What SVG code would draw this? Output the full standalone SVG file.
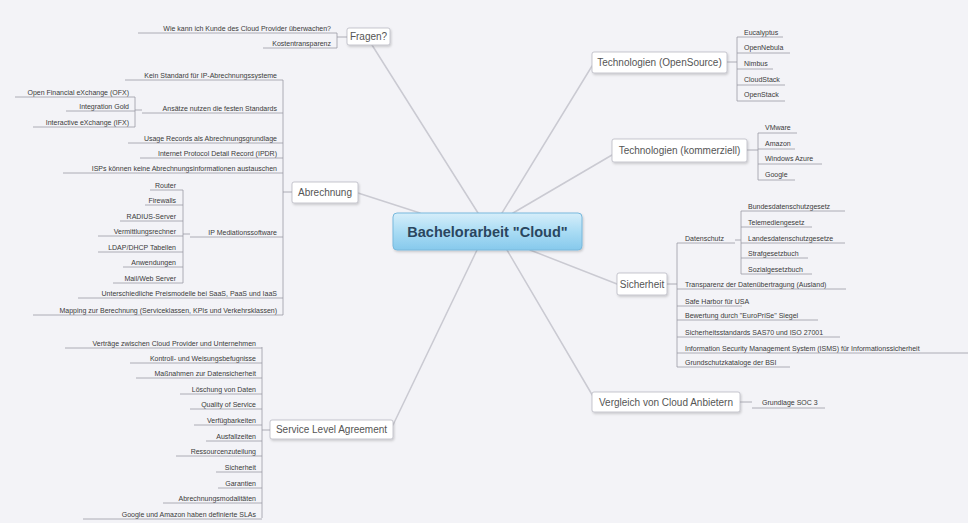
<svg xmlns="http://www.w3.org/2000/svg" width="968" height="523" viewBox="0 0 968 523">
<defs>
<linearGradient id="cg" x1="0" y1="0" x2="0" y2="1">
<stop offset="0" stop-color="#d6eefa"/>
<stop offset="0.5" stop-color="#aadcf4"/>
<stop offset="1" stop-color="#86c9ec"/>
</linearGradient>
<filter id="sh" x="-10%" y="-20%" width="120%" height="150%">
<feDropShadow dx="1" dy="1.5" stdDeviation="1.2" flood-color="#000" flood-opacity="0.18"/>
</filter>
<style>
.t{font-family:"Liberation Sans",Arial,sans-serif;font-size:7px;fill:#3a3a3a}
.e{text-anchor:end}
.tt{font-family:"Liberation Sans",Arial,sans-serif;font-size:10px;fill:#555}
.ul{stroke:#9a9aa4;stroke-width:0.8;fill:none}
.br{stroke:#9a9aa4;stroke-width:0.8;fill:none}
.conn{stroke:#cacad2;stroke-width:1.5;fill:none;stroke-linecap:round}
.box{fill:#fff;stroke:#b9b9c2;stroke-width:0.8}
</style>
</defs>
<rect width="968" height="523" fill="#f3f3f7"/>

<g id="connectors">
<path class="conn" d="M478 213 L372 45"/>
<path class="conn" d="M420 213 L358 193"/>
<path class="conn" d="M502 213 L592 66"/>
<path class="conn" d="M513 213 L612 155"/>
<path class="conn" d="M530 250 L617 284"/>
<path class="conn" d="M507 250 L594 398"/>
<path class="conn" d="M477 250 L393 425"/>
</g>

<g id="center">
<rect x="393" y="213" width="189" height="37" rx="4" fill="url(#cg)" stroke="#79b9dd" stroke-width="1" filter="url(#sh)"/>
<text x="487.5" y="236.5" text-anchor="middle" font-family="'Liberation Sans',Arial,sans-serif" font-size="14.5" font-weight="bold" fill="#2a465e">Bachelorarbeit "Cloud"</text>
</g>

<g id="fragen">
<rect class="box" x="347" y="28" width="43" height="17" rx="2" filter="url(#sh)"/>
<text class="tt" x="368.5" y="40" text-anchor="middle" font-size="9">Fragen?</text>
<path class="br" d="M337 33 V48 M337 37 H347"/>
<text class="t e" x="331" y="30.5">Wie kann ich Kunde des Cloud Provider überwachen?</text>
<line class="ul" x1="138" y1="33" x2="337" y2="33"/>
<text class="t e" x="331" y="45.5">Kostentransparenz</text>
<line class="ul" x1="263" y1="48" x2="337" y2="48"/>
</g>

<g id="abrechnung">
<rect class="box" x="292" y="182" width="66" height="21" rx="2" filter="url(#sh)"/>
<text class="tt" x="325" y="196" text-anchor="middle">Abrechnung</text>
<path class="br" d="M283 80 V315 M283 192 H292"/>
<text class="t e" x="277" y="77.5">Kein Standard für IP-Abrechnungssysteme</text>
<line class="ul" x1="125" y1="80" x2="283" y2="80"/>
<text class="t e" x="277" y="110.5">Ansätze nutzen die festen Standards</text>
<line class="ul" x1="142" y1="113" x2="283" y2="113"/>
<path class="br" d="M135 97 V127 M135 110 H142"/>
<text class="t e" x="129" y="94.5">Open Financial eXchange (OFX)</text>
<line class="ul" x1="15" y1="97" x2="135" y2="97"/>
<text class="t e" x="129" y="108.5">Integration Gold</text>
<line class="ul" x1="66" y1="111" x2="135" y2="111"/>
<text class="t e" x="129" y="124.5">Interactive eXchange (IFX)</text>
<line class="ul" x1="33" y1="127" x2="135" y2="127"/>
<text class="t e" x="277" y="140.5">Usage Records als Abrechnungsgrundlage</text>
<line class="ul" x1="128" y1="143" x2="283" y2="143"/>
<text class="t e" x="277" y="155.5">Internet Protocol Detail Record (IPDR)</text>
<line class="ul" x1="140" y1="158" x2="283" y2="158"/>
<text class="t e" x="277" y="170.5">ISPs können keine Abrechnungsinformationen austauschen</text>
<line class="ul" x1="63" y1="173" x2="283" y2="173"/>
<text class="t e" x="277" y="234.5">IP Mediationssoftware</text>
<line class="ul" x1="190" y1="237" x2="283" y2="237"/>
<path class="br" d="M183 190 V283 M183 234 H190"/>
<text class="t e" x="176" y="187.5">Router</text>
<line class="ul" x1="150" y1="190" x2="183" y2="190"/>
<text class="t e" x="176" y="202.5">Firewalls</text>
<line class="ul" x1="145" y1="205" x2="183" y2="205"/>
<text class="t e" x="176" y="218.5">RADIUS-Server</text>
<line class="ul" x1="120" y1="221" x2="183" y2="221"/>
<text class="t e" x="176" y="233.5">Vermittlungsrechner</text>
<line class="ul" x1="98" y1="236" x2="183" y2="236"/>
<text class="t e" x="176" y="249.5">LDAP/DHCP Tabellen</text>
<line class="ul" x1="98" y1="252" x2="183" y2="252"/>
<text class="t e" x="176" y="264.5">Anwendungen</text>
<line class="ul" x1="123" y1="267" x2="183" y2="267"/>
<text class="t e" x="176" y="280.5">Mail/Web Server</text>
<line class="ul" x1="113" y1="283" x2="183" y2="283"/>
<text class="t e" x="277" y="295.5">Unterschiedliche Preismodelle bei SaaS, PaaS und IaaS</text>
<line class="ul" x1="78" y1="298" x2="283" y2="298"/>
<text class="t e" x="277" y="312.5">Mapping zur Berechnung (Serviceklassen, KPIs und Verkehrsklassen)</text>
<line class="ul" x1="33" y1="315" x2="283" y2="315"/>
</g>

<g id="sla">
<rect class="box" x="270" y="420" width="123" height="19" rx="2" filter="url(#sh)"/>
<text class="tt" x="331.5" y="433" text-anchor="middle">Service Level Agreement</text>
<path class="br" d="M262 347 V518 M262 430 H270"/>
<text class="t e" x="256" y="345.5">Verträge zwischen Cloud Provider und Unternehmen</text>
<line class="ul" x1="65" y1="348" x2="262" y2="348"/>
<text class="t e" x="256" y="360.5">Kontroll- und Weisungsbefugnisse</text>
<line class="ul" x1="130" y1="363" x2="262" y2="363"/>
<text class="t e" x="256" y="375.5">Maßnahmen zur Datensicherheit</text>
<line class="ul" x1="136" y1="378" x2="262" y2="378"/>
<text class="t e" x="256" y="391.5">Löschung von Daten</text>
<line class="ul" x1="180" y1="394" x2="262" y2="394"/>
<text class="t e" x="256" y="406.5">Quality of Service</text>
<line class="ul" x1="190" y1="409" x2="262" y2="409"/>
<text class="t e" x="256" y="422.5">Verfügbarkeiten</text>
<line class="ul" x1="194" y1="425" x2="262" y2="425"/>
<text class="t e" x="256" y="438.5">Ausfallzeiten</text>
<line class="ul" x1="206" y1="441" x2="262" y2="441"/>
<text class="t e" x="256" y="453.5">Ressourcenzuteilung</text>
<line class="ul" x1="176" y1="456" x2="262" y2="456"/>
<text class="t e" x="256" y="469.5">Sicherheit</text>
<line class="ul" x1="216" y1="472" x2="262" y2="472"/>
<text class="t e" x="256" y="485.5">Garantien</text>
<line class="ul" x1="218" y1="488" x2="262" y2="488"/>
<text class="t e" x="256" y="500.5">Abrechnungsmodalitäten</text>
<line class="ul" x1="163" y1="503" x2="262" y2="503"/>
<text class="t e" x="256" y="516.5">Google und Amazon haben definierte SLAs</text>
<line class="ul" x1="83" y1="519" x2="262" y2="519"/>
</g>

<g id="tech-opensource">
<rect class="box" x="592" y="52" width="135" height="21" rx="2" filter="url(#sh)"/>
<text class="tt" x="659.5" y="66" text-anchor="middle">Technologien (OpenSource)</text>
<path class="br" d="M737 37 V101 M727 62 H737"/>
<text class="t" x="744" y="34.5">Eucalyptus</text>
<line class="ul" x1="737" y1="37" x2="783" y2="37"/>
<text class="t" x="744" y="49.5">OpenNebula</text>
<line class="ul" x1="737" y1="53" x2="790" y2="53"/>
<text class="t" x="744" y="65.5">Nimbus</text>
<line class="ul" x1="737" y1="69" x2="773" y2="69"/>
<text class="t" x="744" y="81.5">CloudStack</text>
<line class="ul" x1="737" y1="85" x2="785" y2="85"/>
<text class="t" x="744" y="96.5">OpenStack</text>
<line class="ul" x1="737" y1="101" x2="785" y2="101"/>
</g>

<g id="tech-kommerziell">
<rect class="box" x="612" y="139" width="135" height="23" rx="2" filter="url(#sh)"/>
<text class="tt" x="679.5" y="154" text-anchor="middle">Technologien (kommerziell)</text>
<path class="br" d="M758 133 V180 M747 150 H758"/>
<text class="t" x="765" y="129.5">VMware</text>
<line class="ul" x1="758" y1="133" x2="797" y2="133"/>
<text class="t" x="765" y="145.5">Amazon</text>
<line class="ul" x1="758" y1="149" x2="795" y2="149"/>
<text class="t" x="765" y="160.5">Windows Azure</text>
<line class="ul" x1="758" y1="164" x2="822" y2="164"/>
<text class="t" x="765" y="176.5">Google</text>
<line class="ul" x1="758" y1="180" x2="795" y2="180"/>
</g>

<g id="sicherheit">
<rect class="box" x="617" y="273" width="50" height="22" rx="2" filter="url(#sh)"/>
<text class="tt" x="642" y="287.5" text-anchor="middle">Sicherheit</text>
<path class="br" d="M677 243 V367 M667 284 H677"/>
<text class="t" x="685" y="240.5">Datenschutz</text>
<line class="ul" x1="677" y1="243" x2="735" y2="243"/>
<path class="br" d="M741 211 V274 M735 240 H741"/>
<text class="t" x="748" y="208.5">Bundesdatenschutzgesetz</text>
<line class="ul" x1="741" y1="211" x2="845" y2="211"/>
<text class="t" x="748" y="224.5">Telemediengesetz</text>
<line class="ul" x1="741" y1="227" x2="812" y2="227"/>
<text class="t" x="748" y="240.5">Landesdatenschutzgesetze</text>
<line class="ul" x1="741" y1="243" x2="845" y2="243"/>
<text class="t" x="748" y="255.5">Strafgesetzbuch</text>
<line class="ul" x1="741" y1="258" x2="808" y2="258"/>
<text class="t" x="748" y="271.5">Sozialgesetzbuch</text>
<line class="ul" x1="741" y1="274" x2="812" y2="274"/>
<text class="t" x="685" y="286.5">Transparenz der Datenübertragung (Ausland)</text>
<line class="ul" x1="677" y1="289" x2="846" y2="289"/>
<text class="t" x="685" y="303.5">Safe Harbor für USA</text>
<line class="ul" x1="677" y1="306" x2="742" y2="306"/>
<text class="t" x="685" y="317.5">Bewertung durch "EuroPriSe" Siegel</text>
<line class="ul" x1="677" y1="320" x2="818" y2="320"/>
<text class="t" x="685" y="334.5">Sicherheitsstandards SAS70 und ISO 27001</text>
<line class="ul" x1="677" y1="337" x2="840" y2="337"/>
<text class="t" x="685" y="350.5">Information Security Management System (ISMS) für Informationssicherheit</text>
<line class="ul" x1="677" y1="353" x2="968" y2="353"/>
<text class="t" x="685" y="364.5">Grundschutzkataloge der BSI</text>
<line class="ul" x1="677" y1="367" x2="790" y2="367"/>
</g>

<g id="vergleich">
<rect class="box" x="592" y="392" width="148" height="20" rx="2" filter="url(#sh)"/>
<text class="tt" x="666" y="405.5" text-anchor="middle">Vergleich von Cloud Anbietern</text>
<path class="br" d="M740 402 H752"/>
<text class="t" x="762" y="404.5">Grundlage SOC 3</text>
<line class="ul" x1="752" y1="408" x2="825" y2="408"/>
</g>
</svg>
